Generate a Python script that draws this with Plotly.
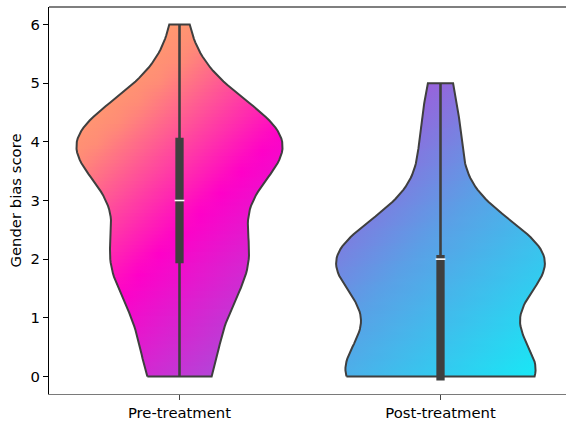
import numpy as np
import plotly.graph_objects as go

# ---- data ----
categories = ["Pre-treatment", "Post-treatment"]
scores = [0, 1, 2, 3, 4, 5, 6]
pre_counts = [5, 4, 11, 4, 19, 2, 1]
post_counts = [12, 2, 13, 1, 2, 1, 0]
y_ticks = [0, 1, 2, 3, 4, 5, 6]
y_title = "Gender bias score"

# ---- style ----
PX_X = 261.0   # px per x unit
PX_Y = 59.09   # px per y unit
OUTLINE = "#3f3f3f"
gradients = [
    [(0.0, (255, 178, 98)), (0.25, (255, 140, 118)), (0.56, (255, 0, 200)), (1.0, (150, 95, 222))],
    [(0.0, (188, 62, 214)), (0.5, (90, 160, 230)), (1.0, (22, 234, 246))],
]


def grad_color(stops, t):
    t = min(max(t, 0.0), 1.0)
    for (t0, c0), (t1, c1) in zip(stops[:-1], stops[1:]):
        if t <= t1:
            f = (t - t0) / (t1 - t0) if t1 > t0 else 0
            c = [c0[i] + f * (c1[i] - c0[i]) for i in range(3)]
            return "rgb(%d,%d,%d)" % tuple(round(v) for v in c)
    return "rgb(%d,%d,%d)" % stops[-1][1]


def kde(data, grid):
    data = np.asarray(data, float)
    n = data.size
    h = data.std(ddof=1) * n ** (-0.2)
    z = (grid[:, None] - data[None, :]) / h
    return np.exp(-0.5 * z ** 2).sum(axis=1) / (n * h * np.sqrt(2 * np.pi))


groups = [np.repeat(scores, pre_counts), np.repeat(scores, post_counts)]
grids, dens = [], []
for d in groups:
    g = np.linspace(d.min(), d.max(), 100)
    grids.append(g)
    dens.append(kde(d, g))
gmax = max(v.max() for v in dens)

fig = go.Figure()
for i, (d, g, den) in enumerate(zip(groups, grids, dens)):
    hw = den / gmax * 0.4
    c = i
    mx = hw.max()
    W = 2 * mx * PX_X
    H = (g.max() - g.min()) * PX_Y
    N = len(g)
    # gradient-filled body, built from overlapping horizontal slices
    for k in range(N - 1):
        k2 = min(k + 2, N - 1)
        idx = list(range(k, k2 + 1))
        ym = 0.5 * (g[k] + g[k + 1])
        dy = (g.max() - ym) * PX_Y
        cs = []
        for s in np.linspace(0, 1, 11):
            t = (s * W + dy) / (W + H)
            cs.append([float(s), grad_color(gradients[i], t)])
        px = [c - hw[j] for j in idx] + [c + hw[j] for j in idx[::-1]]
        py = [g[j] for j in idx] + [g[j] for j in idx[::-1]]
        fig.add_trace(go.Scatter(
            x=px + [px[0]], y=py + [py[0]],
            mode="none", fill="toself",
            fillgradient=dict(type="horizontal", colorscale=cs, start=c - mx, stop=c + mx),
            hoverinfo="skip", showlegend=False))
    # outline
    xs = np.concatenate([c - hw, (c + hw)[::-1], [c - hw[0]]])
    ys = np.concatenate([g, g[::-1], [g[0]]])
    fig.add_trace(go.Scatter(x=xs, y=ys, mode="lines", line=dict(color=OUTLINE, width=2),
                             hoverinfo="skip", showlegend=False))
    # inner box
    q25, q50, q75 = np.percentile(d, [25, 50, 75])
    lim = 1.5 * (q75 - q25)
    h1 = d[d >= q25 - lim].min()
    h2 = d[d <= q75 + lim].max()
    fig.add_trace(go.Scatter(x=[c, c], y=[h1, h2], mode="lines",
                             line=dict(color=OUTLINE, width=2.6), hoverinfo="skip", showlegend=False))
    box_w = 8.3
    cap = box_w / 2 / PX_Y
    fig.add_trace(go.Scatter(x=[c, c], y=[q25 - cap, q75 + cap], mode="lines",
                             line=dict(color=OUTLINE, width=box_w), hoverinfo="skip", showlegend=False))
    fig.add_trace(go.Scatter(x=[c], y=[q50], mode="markers",
                             marker=dict(symbol="line-ew-open", size=7, color="white",
                                         line=dict(color="white", width=1.6)),
                             hoverinfo="skip", showlegend=False))

x_right = -0.5 + 517 / PX_X
fig.update_layout(
    width=566, height=421,
    margin=dict(l=49, r=0, t=7, b=23),
    plot_bgcolor="white", paper_bgcolor="white",
    font=dict(family="DejaVu Sans", size=14.8, color="black"),
    xaxis=dict(range=[-0.5, x_right], tickvals=[0, 1], ticktext=categories,
               showgrid=False, zeroline=False, showline=True, linecolor="#7a7a7a", linewidth=1.2,
               ticks="outside", ticklen=5, tickwidth=1.1, tickcolor="#444444"),
    yaxis=dict(range=[-0.30, 6.30], tickvals=y_ticks, showgrid=False, zeroline=False,
               showline=True, linecolor="black", linewidth=1.1,
               ticks="outside", ticklen=5, tickwidth=1.1, tickcolor="black",
               title=dict(text=y_title, standoff=5, font=dict(size=14.8))),
    shapes=[dict(type="line", xref="paper", yref="paper", x0=0, x1=1, y0=1, y1=1,
                 line=dict(color="black", width=1.1))],
)
fig.write_html("out.html", config={"displayModeBar": False},
               post_script="document.body.style.margin='0';")
